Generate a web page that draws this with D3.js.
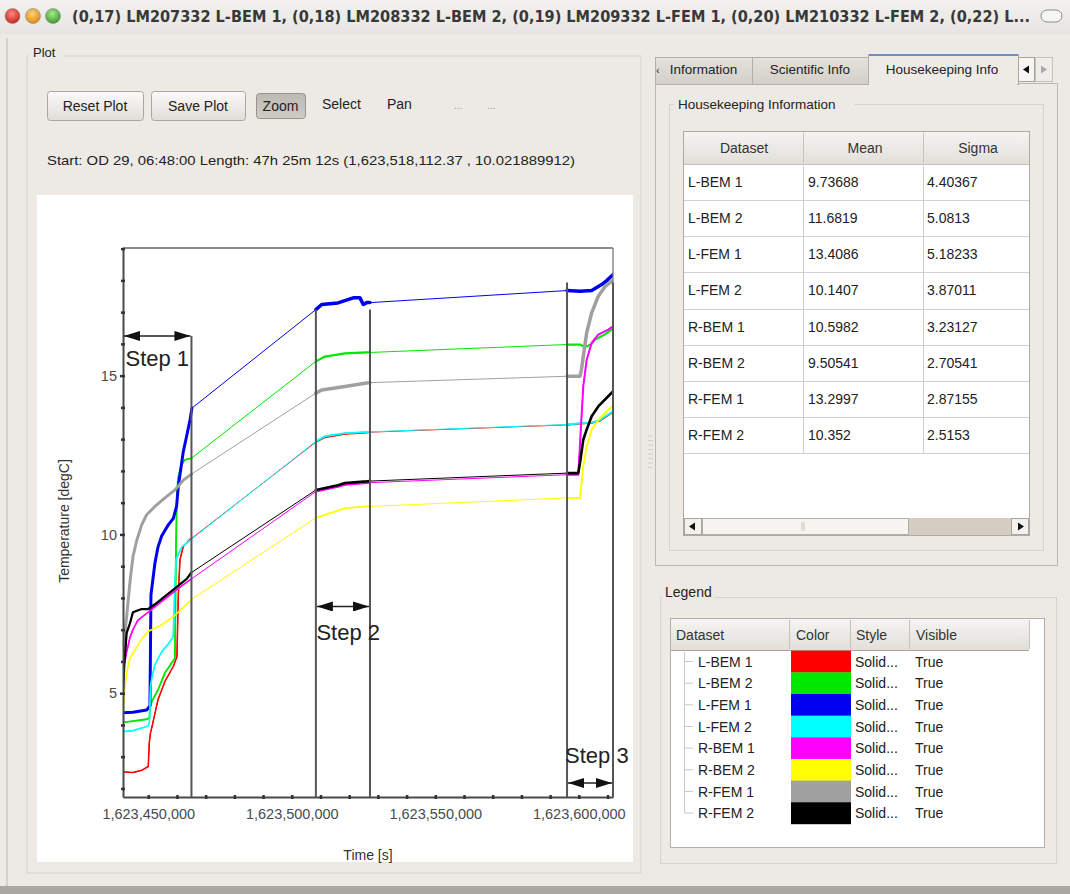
<!DOCTYPE html>
<html><head><meta charset="utf-8">
<script src="https://cdn.jsdelivr.net/npm/d3@7"></script>
<style>
html,body{margin:0;padding:0;background:#edeae5;overflow:hidden;}
svg{display:block;font-family:"Liberation Sans",Arial,sans-serif;}
</style></head><body>
<svg id="c" width="1070" height="894"></svg>
<script>
// ================= DATA =================
const seriesNames  = ["L-BEM 1","L-BEM 2","L-FEM 1","L-FEM 2","R-BEM 1","R-BEM 2","R-FEM 1","R-FEM 2"];
const seriesColors = ["#ff0000","#00e800","#0000f0","#00ffff","#ff00ff","#ffff00","#a0a0a0","#000000"];
const seriesMeans  = ["9.73688","11.6819","13.4086","10.1407","10.5982","9.50541","13.2997","10.352"];
const seriesSigmas = ["4.40367","5.0813","5.18233","3.87011","3.23127","2.70541","2.87155","2.5153"];
const xMajorTicks = [1623450000,1623500000,1623550000,1623600000];
const yMajorTicks = [5,10,15];
const timeDomain = [1623441200, 1623611912];
const tempDomain = [1.73, 19.02];

// [time (s), temperature (degC)]
const lbem1 = [[1623441200,2.52],[1623444670,2.50],[1623447700,2.57],[1623450000,2.69],[1623450350,3.43],[1623450770,3.75],[1623451290,3.94],[1623453380,4.79],[1623455820,5.37],[1623458710,5.84],[1623459990,6.15],[1623460450,8.04],[1623461040,9.2],[1623462190,9.62],[1623464530,9.85],[1623465050,9.87],
  [1623508400,12.91],[1623511560,13.06],[1623518530,13.17],[1623526100,13.21],[1623527250,13.22],
  [1623595900,13.45],[1623600410,13.49],[1623604480,13.51],[1623607370,13.58],[1623609810,13.73],[1623611900,13.85]];
const lbem2 = [[1623441200,4.08],[1623444670,4.12],[1623449440,4.18],[1623450420,4.22],[1623450590,4.55],[1623451290,4.75],[1623453380,5.1],[1623455820,5.64],[1623458150,5.95],[1623459300,6.1],[1623459650,9.5],[1623459990,11.3],[1623460450,11.8],[1623461640,12.2],[1623462790,12.35],[1623465050,12.4],
  [1623508400,15.45],[1623511560,15.6],[1623518530,15.7],[1623526100,15.73],[1623527250,15.73],
  [1623595900,15.98],[1623600410,15.98],[1623601550,15.93],[1623602740,15.92],[1623604480,16.0],[1623605630,16.13],[1623609110,16.3],[1623611900,16.48]];
const lfem1 = [[1623441200,4.38],[1623444670,4.40],[1623449440,4.47],[1623450590,4.6],[1623450940,8.1],[1623452330,9.1],[1623453380,9.6],[1623454670,9.95],[1623456970,10.3],[1623458710,10.5],[1623459890,10.9],[1623460450,11.5],[1623462190,12.6],[1623463380,13.1],[1623464530,13.6],[1623465230,13.98],
  [1623508400,17.08],[1623510410,17.24],[1623516090,17.29],[1623521420,17.45],[1623523760,17.45],[1623524910,17.24],[1623526100,17.3],[1623527250,17.3],
  [1623595900,17.68],[1623600410,17.66],[1623604480,17.68],[1623607960,17.87],[1623609810,18.0],[1623611900,18.18]];
const lfem2 = [[1623441200,3.79],[1623444670,3.82],[1623449440,3.95],[1623450000,3.97],[1623450420,4.1],[1623450770,5.2],[1623451290,5.5],[1623452330,5.9],[1623454670,6.3],[1623456970,6.55],[1623458710,6.78],[1623459120,8.0],[1623459650,9.2],[1623461640,9.6],[1623465050,9.85],
  [1623508400,12.93],[1623511560,13.09],[1623518530,13.19],[1623526100,13.22],[1623527250,13.23],
  [1623595900,13.46],[1623600410,13.5],[1623604480,13.52],[1623607370,13.6],[1623609810,13.75],[1623611900,13.87]];
const rbem1 = [[1623441200,5.3],[1623441650,5.9],[1623442470,6.3],[1623443620,6.75],[1623444670,7.0],[1623446410,7.3],[1623450000,7.55],[1623453380,7.8],[1623456970,8.05],[1623460450,8.3],[1623465050,8.6],
  [1623508400,11.35],[1623516090,11.5],[1623518530,11.56],[1623526100,11.62],[1623527250,11.63],
  [1623595900,11.88],[1623599820,11.88],[1623600750,13.4],[1623601550,14.66],[1623602740,15.5],[1623604480,16.03],[1623606780,16.29],[1623610260,16.45],[1623611900,16.55]];
const rbem2 = [[1623441200,4.2],[1623441650,5.0],[1623442470,5.65],[1623443620,6.1],[1623445960,6.45],[1623447700,6.7],[1623450000,6.95],[1623454670,7.15],[1623459300,7.45],[1623465050,7.95],
  [1623508400,10.52],[1623516090,10.75],[1623518530,10.83],[1623526100,10.88],[1623527250,10.88],
  [1623595900,11.15],[1623600410,11.15],[1623601550,12.14],[1623602740,12.77],[1623604480,13.3],[1623606780,13.6],[1623610260,13.93],[1623611900,14.03]];
const rfem1 = [[1623441200,6.0],[1623441650,6.8],[1623442470,7.4],[1623443620,8.5],[1623444670,9.3],[1623445960,9.8],[1623447700,10.3],[1623449440,10.62],[1623452330,10.88],[1623455820,11.15],[1623459300,11.4],[1623462090,11.7],[1623465050,11.9],
  [1623508400,14.45],[1623510410,14.55],[1623518530,14.66],[1623526100,14.77],[1623527250,14.78],
  [1623595900,14.98],[1623600410,14.98],[1623600930,15.2],[1623601550,15.6],[1623602740,16.35],[1623604480,16.98],[1623606780,17.5],[1623609110,17.8],[1623611900,18.0]];
const rfem2 = [[1623441200,5.0],[1623441650,5.9],[1623442470,6.9],[1623443620,7.2],[1623444670,7.55],[1623447700,7.65],[1623450000,7.65],[1623452330,7.8],[1623455820,8.05],[1623459300,8.3],[1623463380,8.6],[1623465050,8.8],
  [1623508400,11.4],[1623516090,11.55],[1623518530,11.62],[1623526100,11.67],[1623527250,11.68],
  [1623595900,11.93],[1623599820,11.93],[1623600580,12.35],[1623601550,12.98],[1623602740,13.3],[1623604480,13.72],[1623606780,14.03],[1623610260,14.35],[1623611900,14.5]];
const seriesData = [lbem1,lbem2,lfem1,lfem2,rbem1,rbem2,rfem1,rfem2];

// step annotations (time window, arrow level, label level, boundary-line top) in data units
const stepLabels   = ["Step 1","Step 2","Step 3"];
const stepStart    = [1623441200,1623508400,1623595900];
const stepEnd      = [1623465050,1623527250,1623611912];
const stepArrowT   = [16.25, 7.73, 2.17];
const stepLabelT   = [15.29, 6.68, 2.81];
const stepLineTop  = [[null,16.25],[17.08,17.08],[17.93,17.93]];

// ================= GUI =================
const svg = d3.select("#c");
const defs = svg.append("defs");
function lg(id, stops){const g=defs.append("linearGradient").attr("id",id).attr("x1",0).attr("y1",0).attr("x2",0).attr("y2",1);stops.forEach(s=>g.append("stop").attr("offset",s[0]).attr("stop-color",s[1]));}
function rg(id,c1,c2){const g=defs.append("radialGradient").attr("id",id).attr("cx","45%").attr("cy","35%").attr("r","65%");g.append("stop").attr("offset",0).attr("stop-color",c1);g.append("stop").attr("offset",1).attr("stop-color",c2);}
lg("btn",[[0,"#fbfaf9"],[1,"#e0ddd8"]]);
lg("hdr",[[0,"#f5f4f2"],[1,"#e2dfda"]]);
lg("tab",[[0,"#e4e1dc"],[1,"#d3cfc8"]]);
lg("ttl",[[0,"#f2f1ef"],[1,"#e7e5e1"]]);
lg("zoom",[[0,"#bdb9b3"],[1,"#cfcbc5"]]);
rg("cr","#ff8a80","#c8201a"); rg("co","#ffd27a","#e08a10"); rg("cg","#a8e890","#3c9a28");

svg.append("rect").attr("width",1070).attr("height",894).attr("fill","#edeae5");
// title bar
svg.append("rect").attr("width",1070).attr("height",34).attr("fill","url(#ttl)");
[["cr",12.5],["co",33],["cg",53]].forEach(c=>svg.append("circle").attr("cx",c[1]).attr("cy",16).attr("r",7.5).attr("fill",`url(#${c[0]})`).attr("stroke","#8a8a8a").attr("stroke-width",0.6));
svg.append("text").attr("x",72).attr("y",21.5).attr("font-family","'DejaVu Sans Condensed','DejaVu Sans',sans-serif").attr("font-size",15).attr("font-weight","bold").attr("fill","#383838")
  .attr("textLength",958).attr("lengthAdjust","spacingAndGlyphs")
  .text("(0,17) LM207332 L-BEM 1, (0,18) LM208332 L-BEM 2, (0,19) LM209332 L-FEM 1, (0,20) LM210332 L-FEM 2, (0,22) L...");
svg.append("rect").attr("x",1041).attr("y",10).attr("width",21).attr("height",12).attr("rx",6).attr("fill","#f6f6f6").attr("stroke","#8c8c8c");
// window left edge and bottom bar
svg.append("line").attr("x1",7).attr("x2",7).attr("y1",38).attr("y2",886).attr("stroke","#bdb9b3");
svg.append("rect").attr("x",0).attr("y",886).attr("width",1070).attr("height",8).attr("fill","#a9a7a2");

// Plot group
svg.append("rect").attr("x",27).attr("y",56).attr("width",614).attr("height",817).attr("fill","none").attr("stroke","#d6d2cc");
svg.append("rect").attr("x",29).attr("y",46).attr("width",34).attr("height",16).attr("fill","#edeae5");
svg.append("text").attr("x",33).attr("y",57).attr("font-size",13).attr("fill","#222").text("Plot");

function button(x,y,w,h,label,pressed){
  svg.append("rect").attr("x",x+0.5).attr("y",y+0.5).attr("width",w).attr("height",h).attr("rx",3)
    .attr("fill",pressed?"url(#zoom)":"url(#btn)").attr("stroke",pressed?"#97938c":"#aaa69f");
  svg.append("text").attr("x",x+w/2).attr("y",y+h/2+5).attr("text-anchor","middle").attr("font-size",14).attr("fill","#222").text(label);
}
button(47,91,96,29,"Reset Plot",false);
button(151,91,94,29,"Save Plot",false);
button(256,93,49,25,"Zoom",true);
svg.append("text").attr("x",322).attr("y",109).attr("font-size",14).attr("fill","#222").text("Select");
svg.append("text").attr("x",387).attr("y",109).attr("font-size",14).attr("fill","#222").text("Pan");
svg.append("text").attr("x",454).attr("y",109).attr("font-size",10).attr("fill","#999").text("...");
svg.append("text").attr("x",487).attr("y",109).attr("font-size",10).attr("fill","#999").text("...");
svg.append("text").attr("x",47).attr("y",165).attr("font-size",13.5).attr("fill","#222")
  .attr("textLength",528).attr("lengthAdjust","spacingAndGlyphs")
  .text("Start: OD 29, 06:48:00  Length: 47h 25m 12s  (1,623,518,112.37 , 10.021889912)");

// white plot panel
svg.append("rect").attr("x",37).attr("y",195).attr("width",596).attr("height",667).attr("fill","#ffffff");

// ================= CHART =================
const x = d3.scaleLinear().domain(timeDomain).range([123,613]);
const y = d3.scaleLinear().domain(tempDomain).range([797,248]);
const plot = svg.append("g");
defs.append("clipPath").attr("id","pc").append("rect").attr("x",123).attr("y",248).attr("width",490).attr("height",549);

const line = d3.line().x(d=>x(d[0])).y(d=>y(d[1]));
const thick = [1.8,2.2,3.5,1.9,2,1.8,3.5,2.6];
const lg2 = plot.append("g").attr("clip-path","url(#pc)");
seriesData.forEach((data,i)=>{
  lg2.append("path").attr("d",line(data)).attr("fill","none").attr("stroke",seriesColors[i]).attr("stroke-width",1).attr("stroke-linejoin","round");
  stepStart.forEach((s,k)=>{
    const seg = data.filter(d=>d[0]>=s && d[0]<=stepEnd[k]+300);
    if(seg.length>1) lg2.append("path").attr("d",line(seg)).attr("fill","none").attr("stroke",seriesColors[i])
      .attr("stroke-width",thick[i]*(k===0?0.85:1)).attr("stroke-linejoin","round").attr("stroke-linecap","round");
  });
});

// frame
plot.append("line").attr("x1",123).attr("x2",613).attr("y1",248).attr("y2",248).attr("stroke","#666").attr("stroke-width",1.6);
plot.append("line").attr("x1",613).attr("x2",613).attr("y1",248).attr("y2",797).attr("stroke","#777").attr("stroke-width",1.3);

// axes
const minorX = d3.range(1623450000, timeDomain[1], 10000);
const minorY = d3.range(2, 19.5, 1);
const fmt = d3.format(",");
const xAxis = plot.append("g").attr("transform","translate(0,797)")
  .call(d3.axisBottom(x).tickValues(minorX).tickSizeInner(0).tickSizeOuter(0).tickPadding(12)
    .tickFormat(d=>xMajorTicks.includes(d)?fmt(d):""));
const yAxis = plot.append("g").attr("transform","translate(123,0)")
  .call(d3.axisLeft(y).tickValues(minorY).tickSizeInner(0).tickSizeOuter(0).tickPadding(6)
    .tickFormat(d=>yMajorTicks.includes(d)?d:""));
[xAxis,yAxis].forEach(a=>{
  a.select(".domain").attr("stroke","#4a4a4a").attr("stroke-width",2);
  a.selectAll("text").attr("font-family","'Liberation Sans',Arial,sans-serif").attr("font-size",14.5).attr("fill","#4a4a4a");
});
xAxis.selectAll(".tick line").attr("y1",-2).attr("y2",2).attr("stroke","#333").attr("stroke-width",2.5);
yAxis.selectAll(".tick line").attr("x1",-2).attr("x2",2).attr("stroke","#333").attr("stroke-width",2.5);
yAxis.selectAll(".tick").filter(d=>yMajorTicks.includes(d)).select("line").attr("x1",-3);

plot.append("text").attr("x",368).attr("y",860).attr("text-anchor","middle").attr("font-size",14).attr("fill","#333").text("Time [s]");
plot.append("text").attr("transform","translate(69,521) rotate(-90)").attr("text-anchor","middle").attr("font-size",14).attr("fill","#333").text("Temperature [degC]");

// step annotations
const ann = plot.append("g");
defs.append("marker").attr("id","ah").attr("viewBox","0 0 16 10").attr("refX",16).attr("refY",5)
  .attr("markerWidth",16).attr("markerHeight",10).attr("markerUnits","userSpaceOnUse").attr("orient","auto-start-reverse")
  .append("path").attr("d","M0,0 L16,5 L0,10 Z").attr("fill","#111");
stepLabels.forEach((lab,k)=>{
  const x0 = x(stepStart[k]), x1 = x(stepEnd[k]);
  const tops = stepLineTop[k];
  if(tops[0]!==null) ann.append("line").attr("x1",x0).attr("x2",x0).attr("y1",y(tops[0])).attr("y2",797).attr("stroke","#555").attr("stroke-width",2);
  ann.append("line").attr("x1",x1).attr("x2",x1).attr("y1",y(tops[1])).attr("y2",797).attr("stroke","#555").attr("stroke-width",2);
  ann.append("line").attr("x1",x0+1).attr("x2",x1-1).attr("y1",y(stepArrowT[k])).attr("y2",y(stepArrowT[k]))
    .attr("stroke","#222").attr("stroke-width",1.5).attr("marker-start","url(#ah)").attr("marker-end","url(#ah)");
  const off = [2.5,0.5,-2][k];
  ann.append("text").attr("x",x0+off).attr("y",y(stepLabelT[k])).attr("font-size",22).attr("fill","#222").text(lab);
});

// ================= RIGHT PANEL =================
// tabs
const tabs=[[655,752,"Information",false],[752,868,"Scientific Info",false],[868,1018,"Housekeeping Info",true]];
svg.append("rect").attr("x",655.5).attr("y",83.5).attr("width",402).attr("height",482).attr("fill","#edeae5").attr("stroke","#bcb8b1");
tabs.forEach(t=>{
  const y0 = t[3]?54:57;
  svg.append("rect").attr("x",t[0]+0.5).attr("y",y0+0.5).attr("width",t[1]-t[0]).attr("height",84-y0)
    .attr("fill",t[3]?"#eeebe7":"url(#tab)").attr("stroke","#b3afa8");
  if(t[3]) svg.append("rect").attr("x",t[0]+1).attr("y",y0).attr("width",t[1]-t[0]-1).attr("height",2).attr("fill","#6b8fc6");
  svg.append("text").attr("x",(t[0]+t[1])/2+(t[3]?-1:0)).attr("y",74).attr("text-anchor","middle").attr("font-size",13.5).attr("fill","#222").text(t[2]);
});
svg.append("rect").attr("x",869).attr("y",83).attr("width",148).attr("height",2).attr("fill","#eeebe7");
svg.append("text").attr("x",656).attr("y",74).attr("font-size",11).attr("fill","#333").text("‹");
svg.append("rect").attr("x",1018.5).attr("y",57.5).attr("width",16).attr("height",24).attr("fill","#f6f5f3").attr("stroke","#aaa69f");
svg.append("rect").attr("x",1035.5).attr("y",57.5).attr("width",17).attr("height",24).attr("fill","#eeedea").attr("stroke","#c6c2bb");
svg.append("path").attr("d","M1023,69.5 L1029,65.5 L1029,73.5 Z").attr("fill","#111");
svg.append("path").attr("d","M1047,69.5 L1041,65.5 L1041,73.5 Z").attr("fill","#aaa");

// Housekeeping group
svg.append("rect").attr("x",669.5).attr("y",104.5).attr("width",374).attr("height",446).attr("fill","none").attr("stroke","#d6d2cc");
svg.append("rect").attr("x",674).attr("y",96).attr("width",180).attr("height",16).attr("fill","#edeae5");
svg.append("text").attr("x",678).attr("y",109).attr("font-size",13.5).attr("fill","#222").text("Housekeeping Information");

// table
const hdrB=164, rowH=36.16;
svg.append("rect").attr("x",683.5).attr("y",131.5).attr("width",346).attr("height",404).attr("fill","#ffffff").attr("stroke","#aeaaa3");
svg.append("rect").attr("x",684).attr("y",132).attr("width",345).attr("height",32).attr("fill","url(#hdr)");
svg.append("line").attr("x1",684).attr("x2",1029).attr("y1",164.5).attr("y2",164.5).attr("stroke","#c4c0b9");
[["Dataset",744],["Mean",865],["Sigma",978]].forEach(h=>svg.append("text").attr("x",h[1]).attr("y",153).attr("text-anchor","middle").attr("font-size",14).attr("fill","#333").text(h[0]));
[803,923].forEach(cx=>svg.append("line").attr("x1",cx+0.5).attr("x2",cx+0.5).attr("y1",132).attr("y2",hdrB+8*rowH).attr("stroke","#d0d0d0"));
[803,923].forEach(cx=>svg.append("line").attr("x1",cx+0.5).attr("x2",cx+0.5).attr("y1",134).attr("y2",162).attr("stroke","#c6c2bb"));
seriesNames.forEach((n,i)=>{
  const y0=hdrB+i*rowH;
  svg.append("line").attr("x1",684).attr("x2",1029).attr("y1",Math.round(y0+rowH)+0.5).attr("y2",Math.round(y0+rowH)+0.5).attr("stroke","#d0d0d0");
  svg.append("text").attr("x",688).attr("y",y0+23).attr("font-size",14).attr("fill","#222").text(n);
  svg.append("text").attr("x",808).attr("y",y0+23).attr("font-size",14).attr("fill","#222").text(seriesMeans[i]);
  svg.append("text").attr("x",927).attr("y",y0+23).attr("font-size",14).attr("fill","#222").text(seriesSigmas[i]);
});
// scrollbar
svg.append("rect").attr("x",684).attr("y",518).attr("width",345).attr("height",17).attr("fill","#d3cdc2");
svg.append("rect").attr("x",684.5).attr("y",518.5).attr("width",17).attr("height",16).attr("fill","#f3f1ee").attr("stroke","#a9a59e");
svg.append("rect").attr("x",702.5).attr("y",518.5).attr("width",206).attr("height",16).attr("fill","#f6f4f1").attr("stroke","#b4b0a9");
svg.append("rect").attr("x",1011.5).attr("y",518.5).attr("width",17).attr("height",16).attr("fill","#f3f1ee").attr("stroke","#a9a59e");
[802,804].forEach(gx=>svg.append("line").attr("x1",gx).attr("x2",gx).attr("y1",522).attr("y2",531).attr("stroke","#c9c5be"));
svg.append("path").attr("d","M689,526.5 L695,522.5 L695,530.5 Z").attr("fill","#111");
svg.append("path").attr("d","M1024,526.5 L1018,522.5 L1018,530.5 Z").attr("fill","#111");

// splitter grip
d3.range(8).forEach(i=>svg.append("line").attr("x1",648).attr("x2",653).attr("y1",436+i*4.5).attr("y2",436+i*4.5).attr("stroke","#d2cec8"));

// Legend group
svg.append("rect").attr("x",660.5).attr("y",597.5).attr("width",396).attr("height",266).attr("fill","none").attr("stroke","#d6d2cc");
svg.append("rect").attr("x",662).attr("y",585).attr("width",52).attr("height",16).attr("fill","#edeae5");
svg.append("text").attr("x",665).attr("y",597).attr("font-size",14).attr("fill","#222").text("Legend");
svg.append("rect").attr("x",670.5).attr("y",618.5).attr("width",374).attr("height",229).attr("fill","#ffffff").attr("stroke","#b4b0a9");
svg.append("rect").attr("x",671).attr("y",619).attr("width",358).attr("height",31).attr("fill","url(#hdr)");
svg.append("line").attr("x1",671).attr("x2",1029).attr("y1",650.5).attr("y2",650.5).attr("stroke","#a9a59e");
[789,850,909,1029].forEach(cx=>svg.append("line").attr("x1",cx+0.5).attr("x2",cx+0.5).attr("y1",620).attr("y2",649).attr("stroke","#c6c2bb"));
[["Dataset",676],["Color",796],["Style",856],["Visible",916]].forEach(h=>svg.append("text").attr("x",h[1]).attr("y",640).attr("font-size",14).attr("fill","#333").text(h[0]));
const legRowH=21.65, legTop=650.7;
svg.append("line").attr("x1",684.5).attr("x2",684.5).attr("y1",652).attr("y2",legTop+7.5*legRowH).attr("stroke","#c8c8c8");
seriesNames.forEach((n,i)=>{
  const y0=legTop+i*legRowH;
  svg.append("line").attr("x1",685).attr("x2",693).attr("y1",y0+legRowH/2).attr("y2",y0+legRowH/2).attr("stroke","#c8c8c8");
  svg.append("rect").attr("x",791).attr("y",y0).attr("width",60).attr("height",legRowH+0.3).attr("fill",seriesColors[i]);
  svg.append("text").attr("x",698).attr("y",y0+16).attr("font-size",14).attr("fill","#222").text(n);
  svg.append("text").attr("x",855).attr("y",y0+16).attr("font-size",14).attr("fill","#222").text("Solid...");
  svg.append("text").attr("x",915).attr("y",y0+16).attr("font-size",14).attr("fill","#222").text("True");
});
</script>
</body></html>
